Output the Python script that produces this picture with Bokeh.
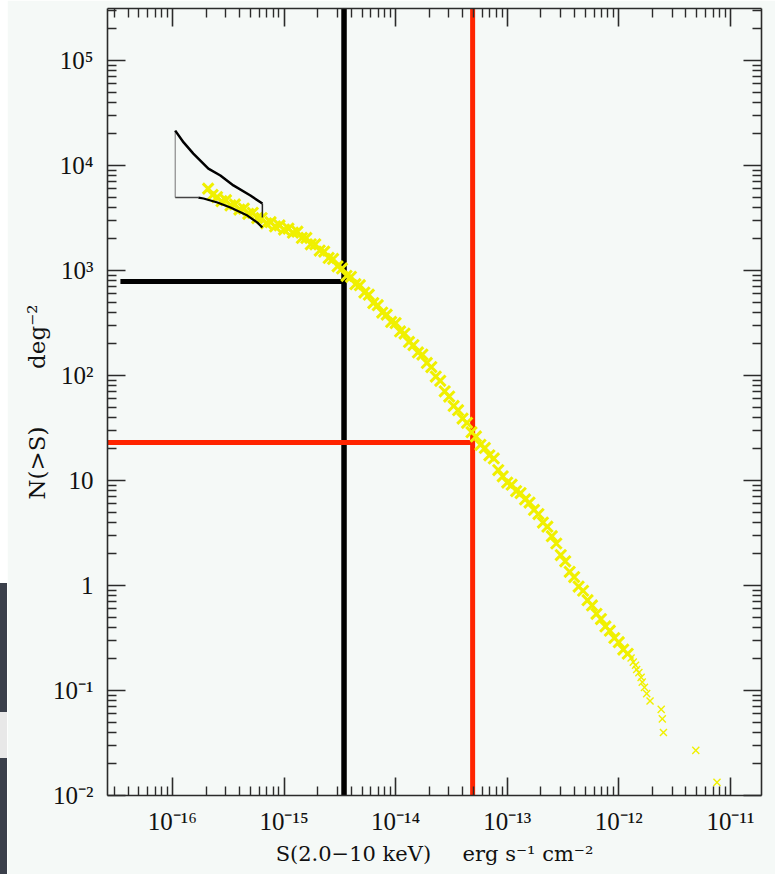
from bokeh.plotting import figure
from bokeh.layouts import row
from bokeh.models import LogAxis, FixedTicker, Range1d, Div
from bokeh.embed import file_html
from bokeh.resources import INLINE

# Cumulative source counts N(>S): log10 of flux (erg s^-1 cm^-2) and of counts (deg^-2)
log_flux = [
    -15.68, -15.64, -15.60, -15.56, -15.52, -15.48, -15.44, -15.40, -15.36, -15.32,
    -15.28, -15.24, -15.20, -15.16, -15.12, -15.08, -15.04, -15.00, -14.96, -14.92,
    -14.88, -14.84, -14.80, -14.76, -14.72, -14.68, -14.64, -14.60, -14.56, -14.52,
    -14.48, -14.44, -14.40, -14.36, -14.32, -14.28, -14.24, -14.20, -14.16, -14.12,
    -14.08, -14.04, -14.00, -13.96, -13.92, -13.88, -13.84, -13.80, -13.76, -13.72,
    -13.68, -13.64, -13.60, -13.56, -13.52, -13.48, -13.44, -13.40, -13.36, -13.32,
    -13.28, -13.24, -13.20, -13.16, -13.12, -13.08, -13.04, -13.00, -12.96, -12.92,
    -12.88, -12.84, -12.80, -12.76, -12.72, -12.68, -12.64, -12.60, -12.56, -12.52,
    -12.48, -12.44, -12.40, -12.36, -12.32, -12.28, -12.24, -12.20, -12.16, -12.12,
    -12.08, -12.04, -12.00, -11.96, -11.92, -11.89, -11.87, -11.85, -11.84, -11.82,
    -11.80, -11.79, -11.77, -11.75, -11.72, -11.62, -11.61, -11.60, -11.31, -11.12,
]
log_counts = [
    3.78, 3.72, 3.70, 3.66, 3.67, 3.62, 3.63, 3.58, 3.59, 3.54,
    3.55, 3.50, 3.50, 3.45, 3.46, 3.42, 3.43, 3.39, 3.40, 3.36,
    3.37, 3.31, 3.31, 3.25, 3.25, 3.19, 3.18, 3.12, 3.11, 3.04,
    3.02, 2.95, 2.94, 2.87, 2.86, 2.79, 2.77, 2.69, 2.67, 2.60,
    2.58, 2.51, 2.50, 2.42, 2.40, 2.32, 2.29, 2.22, 2.20, 2.12,
    2.08, 1.99, 1.95, 1.85, 1.80, 1.71, 1.67, 1.59, 1.55, 1.46,
    1.42, 1.34, 1.31, 1.24, 1.21, 1.10, 1.04, 0.98, 0.96, 0.90,
    0.88, 0.82, 0.79, 0.72, 0.68, 0.60, 0.56, 0.47, 0.40, 0.29,
    0.23, 0.13, 0.08, -0.01, -0.05, -0.14, -0.19, -0.27, -0.32, -0.39,
    -0.43, -0.50, -0.54, -0.61, -0.65, -0.69, -0.73, -0.76, -0.80, -0.83,
    -0.875, -0.92, -0.97, -1.03, -1.10, -1.18, -1.27, -1.40, -1.57, -1.875,
]
# the first 95 entries form the dense part of the counts
dense_n = 95

# Survey limits: flux limit (vertical) and corresponding density (horizontal)
deep_flux, deep_counts = 3.45e-15, 786.0
wide_flux, wide_counts = 4.9e-14, 23.0

# Fluctuation-analysis envelope at the faint end
env_upper_flux = [1.06e-16, 1.26e-16, 1.54e-16, 2.10e-16, 2.69e-16, 3.52e-16, 5.00e-16, 6.40e-16]
env_upper_counts = [21500, 16600, 13000, 9350, 8040, 6460, 5180, 4350]
env_lower_flux = [1.71e-16, 1.90e-16, 2.53e-16, 3.31e-16, 4.70e-16, 5.78e-16, 6.40e-16]
env_lower_counts = [4950, 4850, 4450, 3980, 3340, 2860, 2570]
env_left_flux = [1.06e-16, 1.06e-16, 1.71e-16]
env_left_counts = [21500, 4950, 4950]
env_right_flux = [6.40e-16, 6.40e-16]
env_right_counts = [4350, 3200]

x_exponents = [-16, -15, -14, -13, -12, -11]
x_labels = ["10⁻¹⁶", "10⁻¹⁵", "10⁻¹⁴", "10⁻¹³", "10⁻¹²", "10⁻¹¹"]
y_exponents = [-2, -1, 0, 1, 2, 3, 4, 5]
y_labels = ["10⁻²", "10⁻¹", "1", "10", "10²", "10³", "10⁴", "10⁵"]

BG = "#f5f9f7"
YELLOW = "#f0f000"
RED = "#ff2400"
AXIS = "#2b2b2b"
SERIF = "Liberation Serif"
LABEL_FONT = "DejaVu Serif"

flux = [10 ** v for v in log_flux]
counts = [10 ** v for v in log_counts]

x_major = [10.0 ** e for e in x_exponents]
y_major = [10.0 ** e for e in y_exponents]
x_minor = [k * 10.0 ** e for e in range(-17, -10) for k in range(2, 10)]
y_minor = [k * 10.0 ** e for e in range(-2, 6) for k in range(2, 10)]

p = figure(
    width=768, height=874,
    x_axis_type="log", y_axis_type="log",
    x_range=Range1d(2.62e-17, 1.9e-11), y_range=Range1d(1e-2, 3.13e5),
    output_backend="svg", toolbar_location=None,
    min_border_left=100, min_border_right=14, min_border_top=8, min_border_bottom=79,
    background_fill_color=BG, border_fill_color=BG,
)
p.outline_line_color = None
p.grid.visible = False

def style_axis(ax, ticks, minor, labels, show):
    ax.ticker = FixedTicker(ticks=ticks, minor_ticks=minor)
    ax.axis_line_color = AXIS
    ax.axis_line_width = 1.6
    ax.major_tick_line_color = AXIS
    ax.major_tick_line_width = 1.6
    ax.minor_tick_line_color = AXIS
    ax.minor_tick_line_width = 1.4
    ax.major_tick_in = 18
    ax.major_tick_out = 0
    ax.minor_tick_in = 9
    ax.minor_tick_out = 0
    if show:
        ax.major_label_overrides = dict(zip(ticks, labels))
        ax.major_label_text_font = SERIF
        ax.major_label_text_font_size = "25px"
        ax.major_label_text_color = "#111111"
    else:
        ax.major_label_text_font_size = "1px"
        ax.major_label_text_alpha = 0
        ax.major_label_standoff = 0

style_axis(p.xaxis[0], x_major, x_minor, x_labels, True)
style_axis(p.yaxis[0], y_major, y_minor, y_labels, True)
p.xaxis[0].major_label_standoff = 12
p.yaxis[0].major_label_standoff = 14

p.xaxis[0].axis_label = "S(2.0\u221210 keV)\u2003\u2002erg s\u207b\u00b9 cm\u207b\u00b2"
p.yaxis[0].axis_label = "N(>S)\u2003\u2003\u2002deg\u207b\u00b2"
for ax in (p.xaxis[0], p.yaxis[0]):
    ax.axis_label_text_font = LABEL_FONT
    ax.axis_label_text_font_style = "normal"
    ax.axis_label_text_color = "#111111"
p.xaxis[0].axis_label_text_font_size = "21px"
p.yaxis[0].axis_label_text_font_size = "23px"
p.xaxis[0].axis_label_standoff = 4
p.yaxis[0].axis_label_standoff = 0

top_axis = LogAxis()
right_axis = LogAxis()
style_axis(top_axis, x_major, x_minor, x_labels, False)
style_axis(right_axis, y_major, y_minor, y_labels, False)
p.add_layout(top_axis, "above")
p.add_layout(right_axis, "right")

y_lo, y_hi = p.y_range.start, p.y_range.end

# survey limit lines
p.line([deep_flux, deep_flux], [y_lo, y_hi], line_color="#000000", line_width=5.5)
p.line([3.42e-17, deep_flux], [deep_counts, deep_counts], line_color="#000000", line_width=5)
p.line([2.5e-17, wide_flux], [wide_counts, wide_counts], line_color=RED, line_width=5)
p.line([wide_flux, wide_flux], [y_lo, y_hi], line_color=RED, line_width=5)

# source counts: dense band and the few brightest sources
p.scatter(flux[:dense_n], counts[:dense_n], marker="x", size=15, line_color=YELLOW, line_width=3)
p.scatter(flux[dense_n:], counts[dense_n:], marker="x", size=10, line_color=YELLOW, line_width=1.4)

# envelope
p.line(env_left_flux[:2], env_left_counts[:2], line_color="#8a8a8a", line_width=1.2)
p.line(env_left_flux[1:], env_left_counts[1:], line_color="#444444", line_width=1.5)
p.line(env_upper_flux, env_upper_counts, line_color="#000000", line_width=2.5)
p.line(env_lower_flux, env_lower_counts, line_color="#000000", line_width=2.2)
p.line(env_right_flux, env_right_counts, line_color="#222222", line_width=1.5)

# narrow page edge on the left: light above, dark slate below
edge = Div(text="", width=7, height=874,
           styles={"background": "linear-gradient(to bottom, #ffffff 0px, #ffffff 583px, "
                                 "#3a3f4a 583px, #3a3f4a 712px, #e8e8e8 712px, "
                                 "#e8e8e8 758px, #3a3f4a 758px)",
                   "margin": "0", "padding": "0"})

open("out.html", "w").write(file_html(row(edge, p, spacing=0), INLINE))
